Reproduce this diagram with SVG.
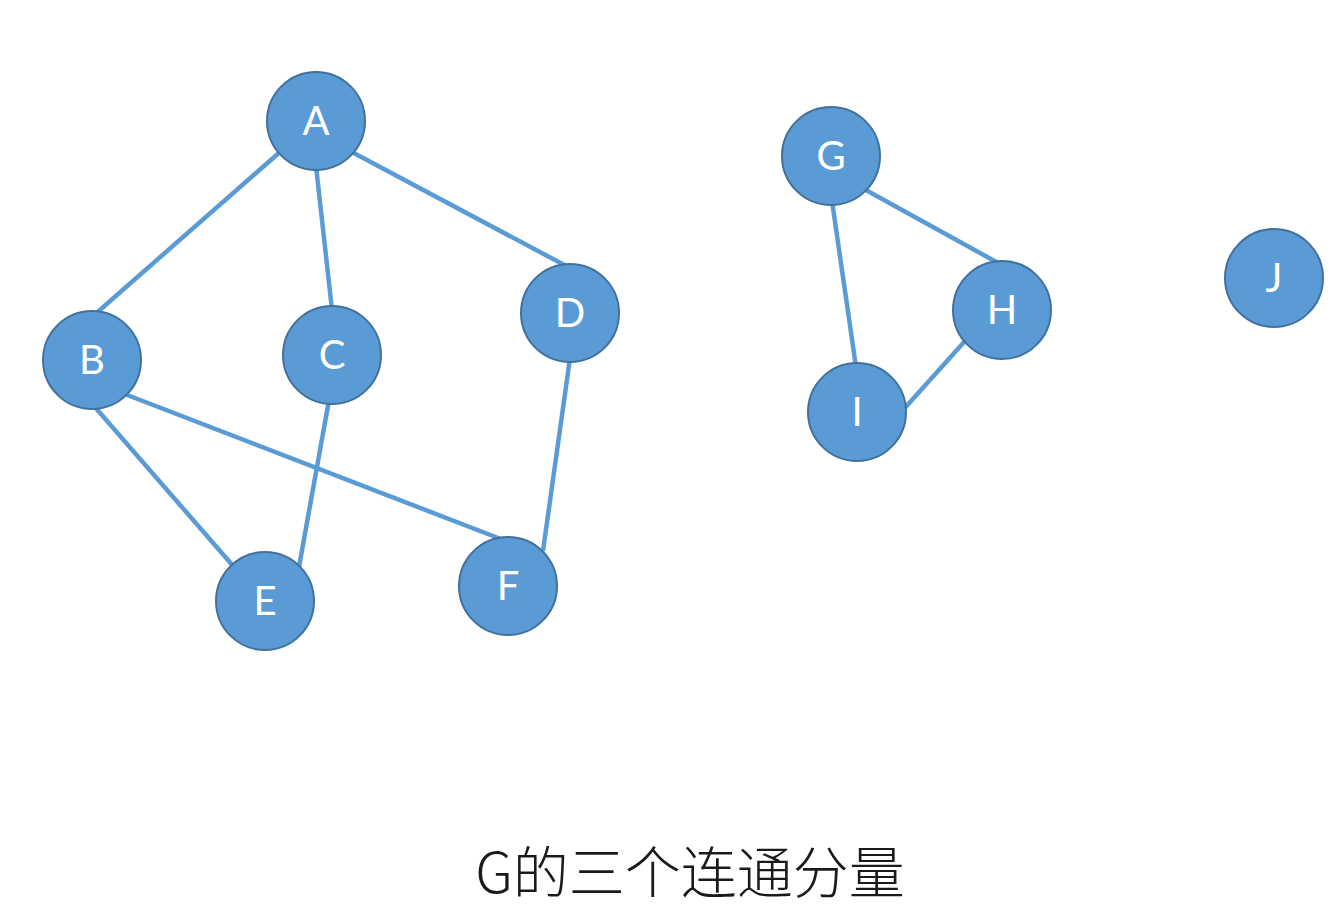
<svg xmlns="http://www.w3.org/2000/svg" width="1338" height="921" viewBox="0 0 1338 921">
<style>
.edge{stroke:#5b9bd5;stroke-width:4.5;fill:none;stroke-linecap:butt}
.node circle{fill:#5b9bd5;stroke:#41719c;stroke-width:2}
.node text{fill:#ffffff;font-family:Lato,"Open Sans","Liberation Sans",sans-serif;font-size:40px;text-anchor:middle}
.title{fill:#1a1a1a;font-family:"Noto Sans CJK SC","Noto Sans",sans-serif;font-weight:300;font-size:56px;text-anchor:middle}
</style>
<rect width="1338" height="921" fill="#ffffff"/>
<g id="connectors">
<line class="edge" x1="280" y1="152" x2="93" y2="316"/>
<line class="edge" x1="316" y1="166" x2="332" y2="310"/>
<line class="edge" x1="350" y1="151" x2="570" y2="268"/>
<line class="edge" x1="94" y1="406" x2="234" y2="567"/>
<line class="edge" x1="122" y1="393" x2="506" y2="541"/>
<line class="edge" x1="329" y1="400" x2="299" y2="567"/>
<line class="edge" x1="570" y1="358" x2="543" y2="551"/>
<line class="edge" x1="832" y1="201" x2="856" y2="367"/>
<line class="edge" x1="864" y1="189" x2="1000" y2="264"/>
<line class="edge" x1="965" y1="341" x2="903" y2="410"/>
</g>
<g id="node-A" class="node"><circle cx="316" cy="121" r="49"/><text x="316" y="135">A</text></g>
<g id="node-B" class="node"><circle cx="92" cy="360" r="49"/><text x="92" y="374">B</text></g>
<g id="node-C" class="node"><circle cx="332" cy="355" r="49"/><text x="332" y="369">C</text></g>
<g id="node-D" class="node"><circle cx="570" cy="313" r="49"/><text x="570" y="327">D</text></g>
<g id="node-E" class="node"><circle cx="265" cy="601" r="49"/><text x="265" y="615">E</text></g>
<g id="node-F" class="node"><circle cx="508" cy="586" r="49"/><text x="508" y="600">F</text></g>
<g id="node-G" class="node"><circle cx="831" cy="156" r="49"/><text x="831" y="170">G</text></g>
<g id="node-H" class="node"><circle cx="1002" cy="310" r="49"/><text x="1002" y="324">H</text></g>
<g id="node-I" class="node"><circle cx="857" cy="412" r="49"/><text x="857" y="426">I</text></g>
<g id="node-J" class="node"><circle cx="1274" cy="278" r="49"/><text x="1274" y="292">J</text></g>
<text class="title" x="690" y="893">G的三个连通分量</text>
</svg>
